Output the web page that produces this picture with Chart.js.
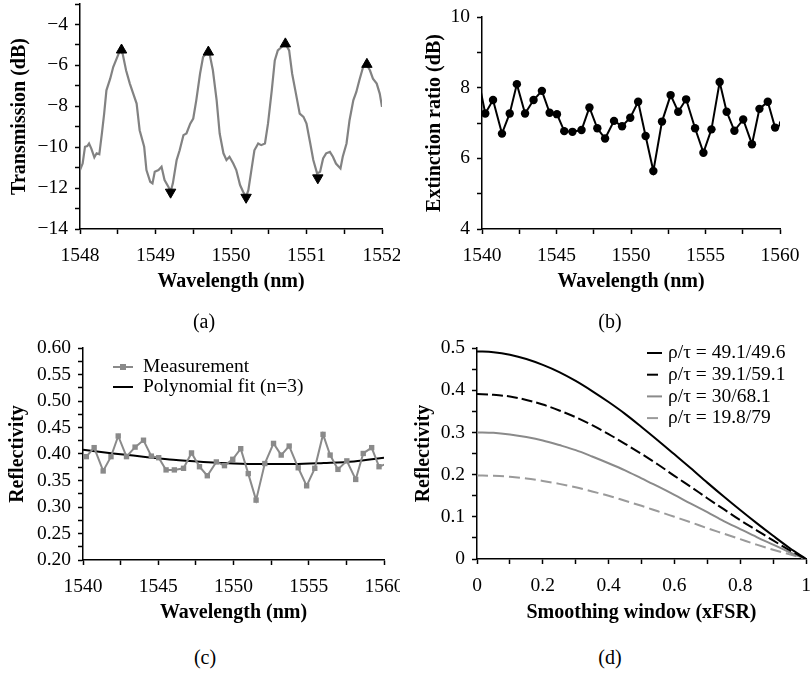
<!DOCTYPE html>
<html>
<head>
<meta charset="utf-8">
<script src="https://cdn.jsdelivr.net/npm/chart.js@4.4.0/dist/chart.umd.min.js"></script>
<style>
  body { margin: 0; background: #fff; width: 810px; height: 677px; position: relative; overflow: hidden; font-family: "Liberation Serif", "Times New Roman", serif; }
  canvas { position: absolute; }
  .cap { position: absolute; font-size: 20px; transform: translate(-50%, -50%); white-space: nowrap; }
</style>
</head>
<body>
<canvas id="ca" width="400" height="294" style="left:0;top:0"></canvas>
<canvas id="cb" width="410" height="294" style="left:400px;top:0"></canvas>
<canvas id="cc" width="400" height="295" style="left:0;top:330px"></canvas>
<canvas id="cd" width="410" height="295" style="left:400px;top:330px"></canvas>
<div class="cap" style="left:204px;top:321px">(a)</div>
<div class="cap" style="left:610px;top:321px">(b)</div>
<div class="cap" style="left:205px;top:657px">(c)</div>
<div class="cap" style="left:610px;top:657px">(d)</div>
<script>
// (a) transmission spectrum
var waveA = [1548.00, 1548.035, 1548.066, 1548.097, 1548.12, 1548.15, 1548.19, 1548.22, 1548.256, 1548.29,
  1548.32, 1548.35, 1548.40, 1548.44, 1548.485, 1548.53, 1548.565, 1548.61, 1548.66, 1548.705,
  1548.75, 1548.79, 1548.85, 1548.88, 1548.93, 1548.96, 1548.99, 1549.04, 1549.08, 1549.12,
  1549.17, 1549.20, 1549.23, 1549.28, 1549.32, 1549.37, 1549.41, 1549.46, 1549.50, 1549.54,
  1549.59, 1549.63, 1549.67, 1549.72, 1549.76, 1549.81, 1549.85, 1549.90, 1549.94, 1549.98,
  1550.03, 1550.07, 1550.12, 1550.16, 1550.20, 1550.23, 1550.27, 1550.31, 1550.36, 1550.40,
  1550.45, 1550.49, 1550.54, 1550.58, 1550.62, 1550.67, 1550.72, 1550.77, 1550.81, 1550.86,
  1550.91, 1550.96, 1551.00, 1551.05, 1551.09, 1551.14, 1551.18, 1551.22, 1551.26, 1551.31,
  1551.35, 1551.39, 1551.45, 1551.48, 1551.53, 1551.57, 1551.62, 1551.66, 1551.70, 1551.75,
  1551.79, 1551.84, 1551.88, 1551.93, 1551.97, 1552.00];
var transA = [-11.12, -10.8, -9.98, -9.95, -9.82, -10.07, -10.5, -10.3, -10.35, -9.33,
  -8.36, -7.22, -6.65, -6.08, -5.67, -5.27, -5.43, -6.24, -6.89, -7.38,
  -7.87, -9.17, -9.98, -11.12, -11.69, -11.77, -11.2, -11.12, -10.96, -11.61,
  -11.93, -12.18, -11.77, -10.63, -10.15, -9.41, -9.33, -8.85, -8.6, -7.71,
  -6.41, -5.59, -5.43, -5.51, -6.24, -7.71, -9.33, -10.3, -10.63, -10.47,
  -10.8, -11.12, -11.85, -12.18, -12.42, -12.1, -11.12, -10.15, -9.82, -9.9,
  -9.82, -8.85, -7.22, -5.76, -5.27, -5.1, -4.94, -5.27, -6.41, -7.38,
  -8.36, -8.52, -8.85, -9.82, -10.63, -11.28, -11.2, -10.55, -10.3, -10.23,
  -10.47, -10.8, -11.04, -10.47, -9.82, -8.68, -7.71, -7.3, -6.73, -6.08,
  -5.92, -6.24, -6.65, -6.89, -7.38, -8.03];
var peakX = [1548.55, 1549.70, 1550.72, 1551.80];
var peakY = [-5.25, -5.35, -4.95, -5.95];
var valleyX = [1549.20, 1550.20, 1551.15];
var valleyY = [-12.2, -12.45, -11.5];

// (b) extinction ratio and (c) reflectivity, same wavelengths
var waveB = [1539.68, 1540.22, 1540.74, 1541.34, 1541.86, 1542.34, 1542.89, 1543.46, 1544.02, 1544.54,
  1545.03, 1545.52, 1546.07, 1546.68, 1547.21, 1547.74, 1548.26, 1548.86, 1549.40, 1549.95,
  1550.48, 1550.98, 1551.50, 1552.08, 1552.66, 1553.17, 1553.70, 1554.30, 1554.86, 1555.40,
  1555.95, 1556.42, 1556.94, 1557.53, 1558.12, 1558.62, 1559.18, 1559.67, 1560.2];
var erB = [8.4, 7.27, 7.65, 6.70, 7.27, 8.10, 7.27, 7.65, 7.91, 7.29,
  7.25, 6.77, 6.75, 6.80, 7.44, 6.85, 6.56, 7.06, 6.91, 7.15,
  7.60, 6.63, 5.64, 7.04, 7.79, 7.32, 7.67, 6.85, 6.16, 6.82,
  8.16, 7.32, 6.78, 7.10, 6.40, 7.40, 7.60, 6.87, 6.98];
var waveC = waveB.slice(1);
var reflC = [0.395, 0.412, 0.368, 0.395, 0.434, 0.395, 0.413, 0.426, 0.396, 0.393,
  0.370, 0.370, 0.373, 0.402, 0.376, 0.359, 0.385, 0.378, 0.390, 0.410,
  0.363, 0.313, 0.382, 0.420, 0.398, 0.415, 0.374, 0.340, 0.373, 0.437,
  0.398, 0.371, 0.387, 0.352, 0.401, 0.412, 0.376, 0.382];
var fitX = [1540, 1542, 1544, 1546, 1548, 1550, 1552, 1554, 1556, 1558, 1560];
var fitY = [0.408, 0.401, 0.395, 0.389, 0.385, 0.382, 0.381, 0.381, 0.383, 0.386, 0.393];

// (d) reflectivity vs smoothing window
var windowD = [0, 0.05, 0.1, 0.15, 0.2, 0.25, 0.3, 0.35, 0.4, 0.45, 0.5,
  0.55, 0.6, 0.65, 0.7, 0.75, 0.8, 0.85, 0.9, 0.95, 1];
var labelsD = ["ρ/τ = 49.1/49.6", "ρ/τ = 39.1/59.1", "ρ/τ = 30/68.1", "ρ/τ = 19.8/79"];
var r1 = [0.492, 0.490, 0.484, 0.474, 0.460, 0.443, 0.422, 0.398, 0.372, 0.344, 0.313,
  0.281, 0.248, 0.215, 0.181, 0.148, 0.116, 0.085, 0.055, 0.026, 0];
var r2 = [0.391, 0.389, 0.385, 0.377, 0.366, 0.352, 0.336, 0.317, 0.296, 0.273, 0.249,
  0.224, 0.197, 0.171, 0.144, 0.118, 0.092, 0.068, 0.044, 0.021, 0];
var r3 = [0.300, 0.299, 0.295, 0.289, 0.281, 0.270, 0.258, 0.243, 0.227, 0.210, 0.191,
  0.172, 0.152, 0.131, 0.111, 0.090, 0.071, 0.052, 0.034, 0.016, 0];
var r4 = [0.198, 0.197, 0.195, 0.191, 0.185, 0.178, 0.170, 0.160, 0.150, 0.138, 0.126,
  0.113, 0.100, 0.087, 0.073, 0.060, 0.047, 0.034, 0.022, 0.011, 0];

Chart.defaults.font.family = '"Liberation Serif", "Times New Roman", serif';
Chart.defaults.font.size = 19.5;
Chart.defaults.color = "#000";

function pts(xs, ys) {
  return xs.map(function (x, i) { return { x: x, y: ys[i] }; });
}

function every(m, fmt) {
  return function (v) {
    var k = v / m;
    return Math.abs(k - Math.round(k)) < 1e-6 ? fmt(v) : "";
  };
}

function axis(min, max, step, cb, title, size, horiz) {
  return {
    type: "linear", min: min, max: max,
    border: { display: true, color: "#000", width: 1.5 },
    grid: { drawOnChartArea: false, drawTicks: true, tickLength: 5, tickColor: "#000", tickWidth: 1.5 },
    ticks: { stepSize: step, autoSkip: false, maxRotation: 0, padding: horiz ? 10 : 7, color: "#000", callback: cb },
    title: { display: true, text: title, font: { size: 20, weight: "bold" }, padding: 0 },
    afterFit: function (s) {
      if (s.isHorizontal()) { s.height = size; } else { s.width = size; }
      s.paddingLeft = 0; s.paddingRight = 0; s.paddingTop = 0; s.paddingBottom = 0;
    }
  };
}

// legend drawn inside the plot area
var inLegend = {
  id: "inLegend",
  afterDatasetsDraw: function (chart, args, o) {
    if (o.x === undefined) return;
    var ctx = chart.ctx;
    ctx.save();
    ctx.font = '19.5px "Liberation Serif"';
    ctx.textBaseline = "middle";
    chart.data.datasets.forEach(function (ds, i) {
      var y = o.y + i * o.row;
      ctx.strokeStyle = ds.borderColor;
      ctx.lineWidth = ds.borderWidth;
      ctx.setLineDash(ds.borderDash || []);
      ctx.beginPath();
      ctx.moveTo(o.x, y);
      ctx.lineTo(o.x + o.w, y);
      ctx.stroke();
      ctx.setLineDash([]);
      if (ds.pointRadius > 0) {
        ctx.fillStyle = ds.backgroundColor;
        ctx.fillRect(o.x + o.w / 2 - 3, y - 3, 6, 6);
      }
      ctx.fillStyle = "#000";
      ctx.fillText(ds.label, o.x + o.w + o.gap, y);
    });
    ctx.restore();
  }
};
Chart.register(inLegend);

function base(pad, scales, legend) {
  return {
    responsive: false, animation: false,
    layout: { padding: pad, autoPadding: false },
    plugins: { legend: { display: false }, tooltip: { enabled: false }, inLegend: legend || {} },
    scales: scales
  };
}

var fmtNum = function (v) { return String(Math.round(v)); };

new Chart(document.getElementById("ca"), {
  type: "line",
  data: {
    datasets: [
      { data: pts(peakX, peakY), showLine: false, pointStyle: "triangle", pointRadius: 6,
        backgroundColor: "#000", borderColor: "#000", borderWidth: 1 },
      { data: pts(valleyX, valleyY), showLine: false, pointStyle: "triangle", pointRadius: 6, pointRotation: 180,
        backgroundColor: "#000", borderColor: "#000", borderWidth: 1 },
      { data: pts(waveA, transA), borderColor: "#828282", borderWidth: 2.2, pointRadius: 0, tension: 0 }
    ]
  },
  options: base({ left: 8, top: 4, right: 18, bottom: 0 }, {
    x: axis(1548, 1552, 0.5, every(1, fmtNum), "Wavelength (nm)", 65, true),
    y: axis(-14, -3, 1, every(2, function (v) { return "\u2212" + Math.abs(Math.round(v)); }), "Transmission (dB)", 72)
  })
});

new Chart(document.getElementById("cb"), {
  type: "line",
  data: {
    datasets: [
      { data: pts(waveB, erB), borderColor: "#000", backgroundColor: "#000", borderWidth: 2,
        pointRadius: 4.2, pointBorderWidth: 0, tension: 0, clip: 0 }
    ]
  },
  options: base({ left: 23, top: 17, right: 30, bottom: 0 }, {
    x: axis(1540, 1560, 2.5, every(5, fmtNum), "Wavelength (nm)", 65, true),
    y: axis(4, 10, 1, every(2, fmtNum), "Extinction ratio (dB)", 59)
  })
});

new Chart(document.getElementById("cc"), {
  type: "line",
  data: {
    datasets: [
      { label: "Measurement", data: pts(waveC, reflC), borderColor: "#8a8a8a", backgroundColor: "#8a8a8a",
        borderWidth: 2, pointStyle: "rect", pointRadius: 3.8, pointBorderWidth: 0, tension: 0, clip: 0 },
      { label: "Polynomial fit (n=3)", data: pts(fitX, fitY), borderColor: "#000", borderWidth: 2,
        pointRadius: 0, cubicInterpolationMode: "monotone" }
    ]
  },
  options: base({ left: 6, top: 18, right: 16, bottom: 0 }, {
    x: axis(1540, 1560, 2.5, every(5, fmtNum), "Wavelength (nm)", 65, true),
    y: axis(0.2, 0.6, 0.025, every(0.05, function (v) { return v.toFixed(2); }), "Reflectivity", 77)
  }, { x: 113, y: 37, row: 20, w: 20, gap: 10 })
});

new Chart(document.getElementById("cd"), {
  type: "line",
  data: {
    datasets: [
      { label: labelsD[0], data: pts(windowD, r1), borderColor: "#000", borderWidth: 2, pointRadius: 0, cubicInterpolationMode: "monotone" },
      { label: labelsD[1], data: pts(windowD, r2), borderColor: "#000", borderWidth: 2, borderDash: [11, 4], pointRadius: 0, cubicInterpolationMode: "monotone" },
      { label: labelsD[2], data: pts(windowD, r3), borderColor: "#8a8a8a", borderWidth: 2, pointRadius: 0, cubicInterpolationMode: "monotone" },
      { label: labelsD[3], data: pts(windowD, r4), borderColor: "#9a9a9a", borderWidth: 2, borderDash: [11, 5], pointRadius: 0, cubicInterpolationMode: "monotone" }
    ]
  },
  options: base({ left: 12, top: 18, right: 4, bottom: 0 }, {
    x: axis(0, 1, 0.1, every(0.2, function (v) { return String(Math.round(v * 10) / 10); }), "Smoothing window (xFSR)", 66, true),
    y: axis(0, 0.5, 0.05, every(0.1, function (v) { return String(Math.round(v * 10) / 10); }), "Reflectivity", 65)
  }, { x: 247, y: 23, row: 21.7, w: 15, gap: 6 })
});
</script>
</body>
</html>
